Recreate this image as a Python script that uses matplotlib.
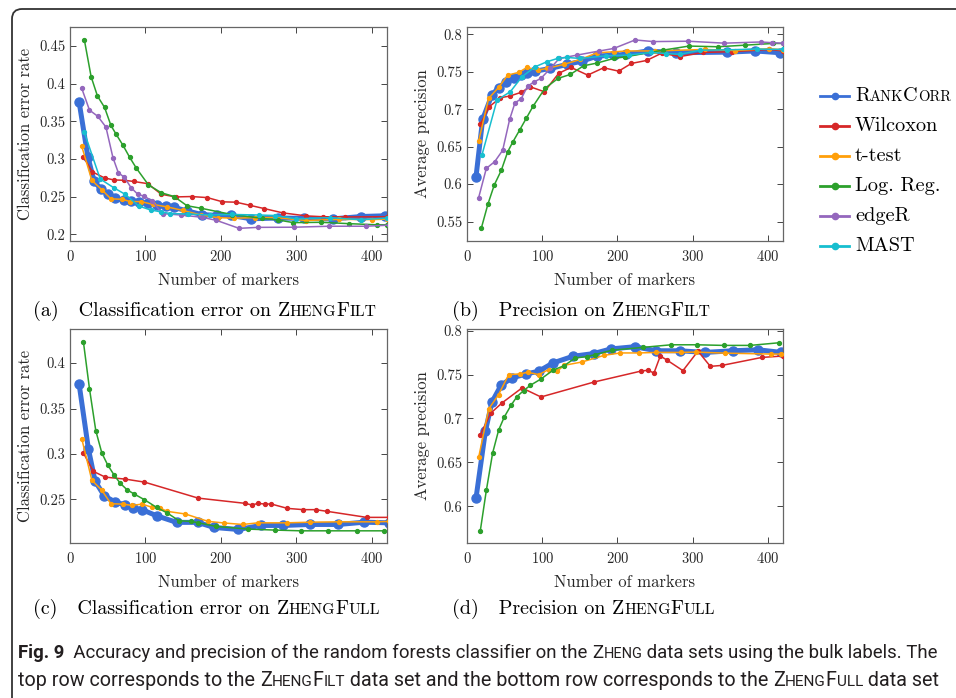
import matplotlib
matplotlib.use("Agg")
import matplotlib.pyplot as plt
from matplotlib.lines import Line2D
from matplotlib.offsetbox import TextArea, HPacker, AnchoredOffsetbox
from matplotlib.patches import FancyBboxPatch
from matplotlib.ticker import FormatStrFormatter
from matplotlib.transforms import IdentityTransform

plt.rcParams['font.family'] = 'serif'
plt.rcParams['font.serif'] = ['cmr10']
plt.rcParams['mathtext.fontset'] = 'cm'
plt.rcParams['axes.formatter.use_mathtext'] = True

SERIF = 'cmr10'
SANS = ['Roboto', 'DejaVu Sans']

# --- data ---
methods = ['RankCorr', 'Wilcoxon', 't-test', 'Log. Reg.', 'edgeR', 'MAST']
colors = ['#3a6fd6', '#d62728', '#ff9f0a', '#2ca02c', '#9467bd', '#17becf']

# (a) classification error, ZhengFilt
a_rank_x = [12, 23.6, 32, 41, 50, 60, 71, 81, 92, 103, 115, 127, 138, 155, 175, 195, 213, 240, 275, 310, 348, 386, 418]
a_rank_y = [0.376, 0.303, 0.270, 0.260, 0.253, 0.2477, 0.245, 0.244, 0.2424, 0.241, 0.239, 0.237, 0.2355, 0.231,
            0.226, 0.225, 0.2249, 0.2205, 0.2215, 0.221, 0.2203, 0.2235, 0.2245]
a_wil_x = [17.8, 29.8, 45.8, 58.2, 72, 84.4, 103, 121, 140, 161, 182, 202, 220, 239, 257, 282, 313, 335, 364, 420]
a_wil_y = [0.3025, 0.2826, 0.2747, 0.272, 0.2716, 0.270, 0.2671, 0.253, 0.2495, 0.250, 0.2486, 0.243, 0.2425,
           0.2382, 0.2341, 0.2283, 0.2243, 0.2232, 0.2230, 0.2232]
a_tt_x = [15.6, 28.9, 42.2, 54.2, 68.9, 80, 94, 110, 129, 150, 173, 195.6, 217, 245, 271, 313, 356, 400, 420]
a_tt_y = [0.3166, 0.2716, 0.259, 0.2469, 0.2464, 0.2433, 0.2433, 0.2395, 0.2362, 0.2315, 0.2256, 0.222, 0.2213,
          0.222, 0.2222, 0.2182, 0.2197, 0.2194, 0.220]
a_lr_x = [19.1, 28, 36.4, 45.8, 54.2, 60.9, 70.2, 79.1, 88, 104, 121, 138, 155, 174, 215, 255, 275, 296, 333, 370, 407, 420]
a_lr_y = [0.4575, 0.409, 0.3833, 0.3683, 0.3444, 0.333, 0.318, 0.302, 0.2875, 0.2654, 0.255, 0.250, 0.2378, 0.2344,
          0.226, 0.221, 0.219, 0.2154, 0.2158, 0.214, 0.2125, 0.2125]
a_er_x = [15.6, 25.8, 36.9, 47.6, 56.9, 64, 72, 80.9, 89.8, 98.7, 108, 123, 146.6, 175, 194, 224, 249, 296.5, 343.5, 392, 422]
a_er_y = [0.3935, 0.3647, 0.3564, 0.3422, 0.3016, 0.2817, 0.2755, 0.2618, 0.253, 0.2503, 0.2445, 0.2273, 0.2255,
          0.2225, 0.2184, 0.2078, 0.2091, 0.2093, 0.2106, 0.2106, 0.212]
a_ma_x = [18.7, 40, 57.8, 73, 91, 106.7, 121, 133, 157, 185, 215, 250, 272, 300, 345, 385, 420]
a_ma_y = [0.336, 0.2733, 0.2618, 0.253, 0.2375, 0.2322, 0.2296, 0.2274, 0.2268, 0.2255, 0.2262, 0.2255, 0.2248,
          0.2205, 0.222, 0.2192, 0.2215]

# (b) average precision, ZhengFilt
b_rank_x = [12, 20.8, 33, 42, 51.8, 62, 71.8, 80, 90.8, 110.7, 133, 153, 172.8, 195, 211, 240, 278, 346, 383, 416]
b_rank_y = [0.61, 0.6866, 0.719, 0.729, 0.7368, 0.7422, 0.7457, 0.748, 0.751, 0.7546, 0.760, 0.7644, 0.7711, 0.7724,
            0.7733, 0.778, 0.7756, 0.7764, 0.778, 0.7756]
b_wil_x = [17.7, 29.7, 44.3, 56.7, 71.8, 84.2, 102.8, 121.8, 138.2, 160.4, 181.6, 201.6, 218.5, 238.8, 258.7, 283,
           314, 352, 402, 420]
b_wil_y = [0.680, 0.7035, 0.7155, 0.7177, 0.7226, 0.730, 0.7235, 0.748, 0.756, 0.7457, 0.7555, 0.751, 0.7613,
           0.7653, 0.775, 0.7705, 0.776, 0.777, 0.780, 0.778]
b_tt_x = [15.5, 28.8, 42, 54, 68.7, 79.7, 94, 106.3, 128.5, 150.6, 172.8, 195, 213, 250, 316, 356, 402, 420]
b_tt_y = [0.6577, 0.7146, 0.7293, 0.7457, 0.7493, 0.756, 0.7524, 0.7546, 0.760, 0.7666, 0.7755, 0.7769, 0.778,
          0.778, 0.780, 0.7785, 0.781, 0.7795]
b_lr_x = [19, 27.9, 36.3, 45.6, 54, 60.7, 70, 78.8, 87.7, 103.6, 121, 137.3, 155, 172.8, 195, 210, 260, 295, 333.5,
          369, 406.6, 420]
b_lr_y = [0.541, 0.5736, 0.599, 0.6185, 0.643, 0.656, 0.6723, 0.688, 0.7039, 0.728, 0.7413, 0.7466, 0.7582, 0.7618,
          0.768, 0.770, 0.779, 0.7845, 0.7836, 0.7857, 0.788, 0.788]
b_er_x = [15.5, 25.7, 36.8, 47.4, 56.7, 63.8, 71.8, 80.6, 89.5, 98.3, 110.7, 122.7, 146, 175, 195, 223.5, 247.7,
          294, 342, 390.6, 406, 420]
b_er_y = [0.582, 0.6211, 0.630, 0.6452, 0.6866, 0.7088, 0.7137, 0.731, 0.7368, 0.7413, 0.7546, 0.768, 0.7724,
          0.7778, 0.7813, 0.7927, 0.7905, 0.791, 0.7884, 0.790, 0.789, 0.7884]
b_ma_x = [19.9, 39.9, 57.6, 73, 90.8, 106.3, 120.5, 133, 150, 185, 215, 245, 265, 283, 310, 345, 385, 420]
b_ma_y = [0.639, 0.7124, 0.7235, 0.7435, 0.7569, 0.7636, 0.768, 0.7693, 0.768, 0.7715, 0.7725, 0.776, 0.7745,
          0.7735, 0.779, 0.7795, 0.7805, 0.780]

# (c) classification error, ZhengFull
c_rank_x = [12, 24.4, 33.3, 45.3, 60, 73.3, 83, 95.6, 114.7, 141.3, 169, 191, 223, 253, 282.2, 318, 355.6, 390, 422]
c_rank_y = [0.3773, 0.3054, 0.270, 0.254, 0.247, 0.244, 0.241, 0.2386, 0.232, 0.2247, 0.2247, 0.2191, 0.2169,
            0.2213, 0.2213, 0.2224, 0.2224, 0.2249, 0.2242]
c_wil_x = [17.8, 31, 46.7, 73.3, 98.7, 169.8, 232.4, 240.9, 249, 257.8, 266.7, 288, 309, 325.3, 341, 393, 422]
c_wil_y = [0.301, 0.2808, 0.2745, 0.2723, 0.269, 0.2514, 0.2456, 0.2438, 0.2456, 0.2449, 0.2449, 0.2401, 0.2387,
           0.2387, 0.2368, 0.2302, 0.2302]
c_tt_x = [15.6, 28.9, 42.2, 54.2, 70.2, 82, 95.6, 108.9, 119, 129, 153, 183, 204.4, 228.9, 249, 287, 317.6, 356,
          406.7, 422]
c_tt_y = [0.3167, 0.2712, 0.260, 0.2452, 0.2448, 0.2434, 0.2448, 0.2412, 0.2405, 0.2368, 0.2339, 0.2258, 0.224,
          0.2224, 0.2242, 0.2242, 0.2249, 0.2253, 0.2253, 0.2257]
c_lr_x = [17.8, 25.8, 34.2, 42.2, 49.8, 58.7, 66.7, 75.6, 84.4, 98.7, 114.7, 128.9, 144.4, 160, 169.8, 193, 235.6,
          272, 306.7, 342.2, 380, 415.6]
c_lr_y = [0.4231, 0.3718, 0.3255, 0.301, 0.2881, 0.2764, 0.2676, 0.2606, 0.2562, 0.2496, 0.2412, 0.235, 0.2265,
          0.2258, 0.2243, 0.2203, 0.2173, 0.2162, 0.2154, 0.2154, 0.2154, 0.2154]

# (d) average precision, ZhengFull
d_rank_x = [12, 24.4, 33.2, 45.2, 59.8, 78.8, 95.2, 114.3, 140.9, 168.3, 191.4, 222.9, 251.6, 282.6, 316, 353.6,
            386.8, 417.8]
d_rank_y = [0.6093, 0.6854, 0.7188, 0.7378, 0.7462, 0.7508, 0.7538, 0.7633, 0.7709, 0.774, 0.7793, 0.7818, 0.7772,
            0.7772, 0.7753, 0.7772, 0.7783, 0.7753]
d_wil_x = [17.7, 31.9, 46.5, 73.1, 98.3, 169.2, 231.7, 240.5, 248.5, 256.9, 265.7, 287, 307, 323.4, 338.9, 392, 420]
d_wil_y = [0.6816, 0.7063, 0.7177, 0.7348, 0.7245, 0.7416, 0.7541, 0.7549, 0.7518, 0.7712, 0.7666, 0.7545, 0.7768,
           0.7594, 0.7605, 0.7696, 0.7712]
d_tt_x = [15.5, 28.8, 42, 55.4, 70.9, 80.6, 95.2, 108.5, 119.6, 129.3, 152.8, 182.5, 203.8, 228.8, 251.6, 284.8,
          304, 342.5, 404.6, 418]
d_tt_y = [0.6557, 0.7108, 0.7272, 0.750, 0.7508, 0.7527, 0.750, 0.7557, 0.7538, 0.7606, 0.7644, 0.772, 0.7747,
          0.7747, 0.7753, 0.7753, 0.7757, 0.7745, 0.7734, 0.7734]
d_lr_x = [17.7, 25.7, 34.1, 42.1, 49.6, 58.5, 66.4, 75.3, 84.2, 98.3, 114.3, 129.3, 144, 159.5, 170.5, 192.7, 234.4,
          271.4, 305.5, 341, 376.4, 414.6]
d_lr_y = [0.5721, 0.618, 0.6607, 0.6869, 0.7017, 0.715, 0.7249, 0.7318, 0.7378, 0.745, 0.755, 0.7603, 0.769,
          0.7705, 0.7728, 0.7778, 0.7811, 0.784, 0.784, 0.7833, 0.7833, 0.7863]

panels = [
    {'series': [(a_rank_x, a_rank_y), (a_wil_x, a_wil_y), (a_tt_x, a_tt_y), (a_lr_x, a_lr_y), (a_er_x, a_er_y), (a_ma_x, a_ma_y)],
     'ylim': (0.191, 0.475), 'yticks': [0.2, 0.25, 0.3, 0.35, 0.4, 0.45], 'ylabel': 'Classification error rate',
     'pos': [70, 27, 387, 241]},
    {'series': [(b_rank_x, b_rank_y), (b_wil_x, b_wil_y), (b_tt_x, b_tt_y), (b_lr_x, b_lr_y), (b_er_x, b_er_y), (b_ma_x, b_ma_y)],
     'ylim': (0.524, 0.81), 'yticks': [0.55, 0.6, 0.65, 0.7, 0.75, 0.8], 'ylabel': 'Average precision',
     'pos': [467, 27, 783, 241]},
    {'series': [(c_rank_x, c_rank_y), (c_wil_x, c_wil_y), (c_tt_x, c_tt_y), (c_lr_x, c_lr_y)],
     'ylim': (0.202, 0.4375), 'yticks': [0.25, 0.3, 0.35, 0.4], 'ylabel': 'Classification error rate',
     'pos': [70, 329, 387, 543]},
    {'series': [(d_rank_x, d_rank_y), (d_wil_x, d_wil_y), (d_tt_x, d_tt_y), (d_lr_x, d_lr_y)],
     'ylim': (0.558, 0.802), 'yticks': [0.6, 0.65, 0.7, 0.75, 0.8], 'ylabel': 'Average precision',
     'pos': [467, 329, 783, 543]},
]

W, H = 956, 698
fig = plt.figure(figsize=(W / 100, H / 100), dpi=100)
renderer = fig.canvas.get_renderer()


def fx(px):
    return px / W


def fy(py):
    return 1 - py / H


def caps_box(parts, size, family, small=0.8, color='black', weight='normal'):
    areas = []
    for t, s, *rest in parts:
        w = rest[0] if rest else weight
        areas.append(TextArea(t, textprops=dict(fontsize=size * (small if s else 1), family=family,
                                                color=color, weight=w)))
    return HPacker(children=areas, align='baseline', pad=0, sep=0)


def fit_box(parts, width_px, family, size0, **kw):
    # scale the font so the line spans the given width, like the justified caption
    probe = caps_box(parts, size0, family, **kw)
    probe.set_figure(fig)
    w = probe.get_bbox(renderer).width
    return caps_box(parts, size0 * width_px / w, family, **kw)


def place(box, x, y, loc='lower left'):
    ab = AnchoredOffsetbox(loc=loc, child=box, pad=0, borderpad=0, frameon=False,
                           bbox_to_anchor=(fx(x), fy(y)), bbox_transform=fig.transFigure)
    fig.add_artist(ab)


for p in panels:
    l, t, r, b = p['pos']
    ax = fig.add_axes([fx(l), fy(b), fx(r - l), (b - t) / H])
    for k, (xs, ys) in enumerate(p['series']):
        if k == 0:
            ax.plot(xs, ys, color=colors[k], lw=3.6, marker='o', ms=6.5, zorder=2)
        else:
            ax.plot(xs, ys, color=colors[k], lw=1.1, marker='o', ms=2.8, zorder=3)
    ax.set_xlim(0, 420)
    ax.set_ylim(*p['ylim'])
    ax.set_xticks([0, 100, 200, 300, 400])
    ax.set_yticks(p['yticks'])
    ax.yaxis.set_major_formatter(FormatStrFormatter('%g'))
    ax.tick_params(direction='in', top=True, right=True, length=4, width=0.7, color='#444444',
                   labelsize=10.5, labelcolor='#262626')
    ax.tick_params(axis='x', pad=6)
    ax.tick_params(axis='y', pad=3.5)
    for s in ax.spines.values():
        s.set_color('#666666')
        s.set_linewidth(0.9)
    ax.set_xlabel('Number of markers', fontsize=12, labelpad=6, color='#262626')
    ax.set_ylabel(p['ylabel'], fontsize=12, labelpad=4, color='#262626')

# sub captions
subcaps = [
    ([('(a)   Classification error on ', False), ('Z', False), ('HENG', True), ('F', False), ('ILT', True)], 33, 321),
    ([('(b)   Precision on ', False), ('Z', False), ('HENG', True), ('F', False), ('ILT', True)], 452, 321),
    ([('(c)   Classification error on ', False), ('Z', False), ('HENG', True), ('F', False), ('ULL', True)], 33, 619),
    ([('(d)   Precision on ', False), ('Z', False), ('HENG', True), ('F', False), ('ULL', True)], 452, 619),
]
for parts, x, y in subcaps:
    place(caps_box(parts, 14.4, SERIF, small=0.78), x, y)

# legend drawn by hand
for i, (name, c) in enumerate(zip(methods, colors)):
    y = 96 + 30 * i
    fig.add_artist(Line2D([fx(820), fx(849)], [fy(y), fy(y)], transform=fig.transFigure,
                          color=c, lw=2.0))
    fig.add_artist(Line2D([fx(834.5)], [fy(y)], transform=fig.transFigure, color=c,
                          marker='o', ms=4.5))
    if name == 'RankCorr':
        parts = [('R', False), ('ANK', True), ('C', False), ('ORR', True)]
    else:
        parts = [(name, False)]
    place(caps_box(parts, 14.6, SERIF, small=0.72), 855, y, loc='center left')

# figure caption
cap1 = [('Fig. 9', False, 'bold'), ('  Accuracy and precision of the random forests classifier on the ', False),
        ('Z', False), ('HENG', True), (' data sets using the bulk labels. The', False)]
cap2 = [('top row corresponds to the ', False), ('Z', False), ('HENG', True), ('F', False), ('ILT', True),
        (' data set and the bottom row corresponds to the ', False), ('Z', False), ('HENG', True), ('F', False),
        ('ULL', True), (' data set', False)]
place(fit_box(cap1, 922, SANS, 13, small=0.78, color='#231f20'), 18, 662)
place(fit_box(cap2, 922, SANS, 13, small=0.78, color='#231f20'), 18, 690)

# outer frame with rounded top-left corner
frame = FancyBboxPatch((12, -40), 1200, 689 + 40, boxstyle='round,pad=0,rounding_size=10',
                       transform=IdentityTransform(), fill=False, edgecolor='#333333', lw=1.3)
fig.add_artist(frame)

fig.savefig('out.png', dpi=100)
